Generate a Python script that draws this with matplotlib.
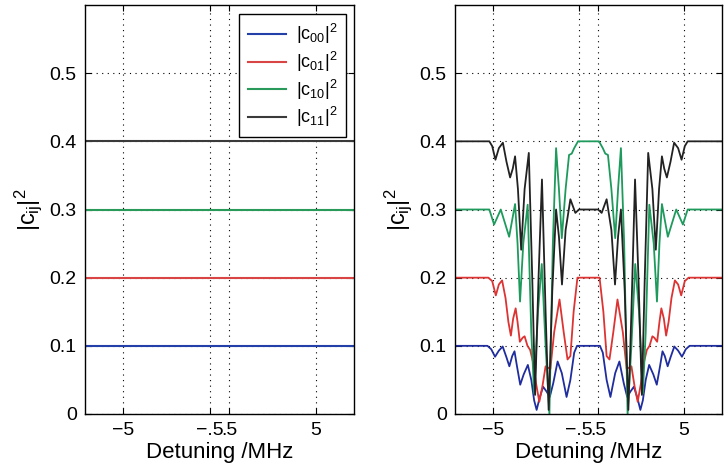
import matplotlib.pyplot as plt

plt.rcParams["font.family"] = ["Liberation Sans", "DejaVu Sans"]
plt.rcParams["mathtext.fontset"] = "custom"
plt.rcParams["mathtext.rm"] = "Liberation Sans"
plt.rcParams["mathtext.it"] = "Liberation Sans"

# ─── Data ──────────────────────────────────────────────────────────────────
X_TICKS = [-5, -0.5, 0.5, 5]
X_TICK_LABELS = ["\u22125", "\u2212.5", ".5", "5"]
Y_TICKS = [0, 0.1, 0.2, 0.3, 0.4, 0.5]
Y_TICK_LABELS = ["0", "0.1", "0.2", "0.3", "0.4", "0.5"]
LABELS = [r"$|c_{00}|^2$", r"$|c_{01}|^2$", r"$|c_{10}|^2$", r"$|c_{11}|^2$"]

# left panel: constant populations
left_x = [-7, 7]
left_levels = [0.1, 0.2, 0.3, 0.4]

# right panel: populations vs detuning
c00_x = [-7, -5.3, -5.1, -4.9, -4.7, -4.5, -4.3, -4.15, -4.0, -3.88, -3.75, -3.58,
         -3.4, -3.18, -3.0, -2.85, -2.72, -2.55, -2.38, -2.2, -2.03, -1.85, -1.62,
         -1.4, -1.15, -0.95, -0.75, -0.6, 0,
         0.6, 0.75, 0.95, 1.15, 1.4, 1.62, 1.85, 2.03, 2.2, 2.38, 2.55, 2.72, 2.85,
         3.0, 3.18, 3.4, 3.58, 3.75, 3.88, 4.0, 4.15, 4.3, 4.5, 4.7, 4.9, 5.1, 5.3, 7]
c00_y = [0.1, 0.1, 0.095, 0.084, 0.093, 0.099, 0.083, 0.07, 0.085, 0.092, 0.07, 0.043,
         0.058, 0.072, 0.05, 0.02, 0.006, 0.025, 0.04, 0.033, 0.025, 0.045, 0.077,
         0.06, 0.025, 0.05, 0.09, 0.1, 0.1,
         0.1, 0.09, 0.05, 0.025, 0.06, 0.077, 0.045, 0.025, 0.033, 0.04, 0.025, 0.006, 0.02,
         0.05, 0.072, 0.058, 0.043, 0.07, 0.092, 0.085, 0.07, 0.083, 0.099, 0.093, 0.084,
         0.095, 0.1, 0.1]

c01_x = [-7, -5.25, -5.05, -4.86, -4.7, -4.53, -4.35, -4.2, -4.07, -3.95, -3.82, -3.72,
         -3.6, -3.45, -3.35, -3.2, -3.06, -2.9, -2.75, -2.58, -2.42, -2.25, -2.0, -1.8,
         -1.52, -1.3, -1.1, -0.95, -0.78, -0.58, 0,
         0.58, 0.78, 0.95, 1.1, 1.3, 1.52, 1.8, 2.0, 2.25, 2.42, 2.58, 2.75, 2.9, 3.06,
         3.2, 3.35, 3.45, 3.6, 3.72, 3.82, 3.95, 4.07, 4.2, 4.35, 4.53, 4.7, 4.86, 5.05,
         5.25, 7]
c01_y = [0.2, 0.2, 0.195, 0.174, 0.19, 0.196, 0.17, 0.135, 0.115, 0.14, 0.155, 0.135,
         0.106, 0.112, 0.114, 0.1, 0.094, 0.075, 0.045, 0.018, 0.04, 0.07, 0.066, 0.12,
         0.168, 0.12, 0.08, 0.085, 0.15, 0.2, 0.2,
         0.2, 0.15, 0.085, 0.08, 0.12, 0.168, 0.12, 0.066, 0.07, 0.04, 0.018, 0.045, 0.075,
         0.094, 0.1, 0.114, 0.112, 0.106, 0.135, 0.155, 0.14, 0.115, 0.135, 0.17, 0.196,
         0.19, 0.174, 0.195, 0.2, 0.2]

c10_x = [-7, -5.2, -4.95, -4.6, -4.16, -3.85, -3.72, -3.59, -3.42, -3.19, -3.0, -2.85,
         -2.65, -2.45, -2.25, -2.05, -1.87, -1.7, -1.55, -1.4, -1.2, -1.02, -0.88, -0.75,
         -0.55, 0,
         0.55, 0.75, 0.88, 1.02, 1.2, 1.4, 1.55, 1.7, 1.87, 2.05, 2.25, 2.45, 2.65, 2.85,
         3.0, 3.19, 3.42, 3.59, 3.72, 3.85, 4.16, 4.6, 4.95, 5.2, 7]
c10_y = [0.3, 0.3, 0.278, 0.3, 0.26, 0.308, 0.25, 0.165, 0.25, 0.307, 0.12, 0.03,
         0.15, 0.22, 0.1, 0.0, 0.25, 0.39, 0.33, 0.258, 0.33, 0.38, 0.382, 0.39,
         0.4, 0.4,
         0.4, 0.39, 0.382, 0.38, 0.33, 0.258, 0.33, 0.39, 0.25, 0.0, 0.1, 0.22, 0.15, 0.03,
         0.12, 0.307, 0.25, 0.165, 0.25, 0.308, 0.26, 0.3, 0.278, 0.3, 0.3]

c11_x = [-7, -5.2, -5.05, -4.88, -4.7, -4.49, -4.3, -4.11, -3.97, -3.85, -3.7, -3.53,
         -3.35, -3.13, -2.95, -2.8, -2.62, -2.44, -2.25, -2.09, -1.9, -1.7, -1.55, -1.39,
         -1.2, -0.95, -0.82, -0.69, -0.5, 0,
         0.5, 0.69, 0.82, 0.95, 1.2, 1.39, 1.55, 1.7, 1.9, 2.09, 2.25, 2.44, 2.62, 2.8,
         2.95, 3.13, 3.35, 3.53, 3.7, 3.85, 3.97, 4.11, 4.3, 4.49, 4.7, 4.88, 5.05, 5.2, 7]
c11_y = [0.4, 0.4, 0.393, 0.373, 0.39, 0.398, 0.37, 0.347, 0.36, 0.378, 0.33, 0.241,
         0.33, 0.383, 0.2, 0.028, 0.2, 0.344, 0.15, 0.006, 0.18, 0.3, 0.26, 0.19,
         0.27, 0.315, 0.305, 0.295, 0.3, 0.3,
         0.3, 0.295, 0.305, 0.315, 0.27, 0.19, 0.26, 0.3, 0.18, 0.006, 0.15, 0.344, 0.2,
         0.028, 0.2, 0.383, 0.33, 0.241, 0.33, 0.378, 0.36, 0.347, 0.37, 0.398, 0.39,
         0.373, 0.393, 0.4, 0.4]

COLORS = ["#1f2d9e", "#dd3333", "#1d9a5c", "#222222"]
LEFT_COLORS = ["#2340a8", "#d94444", "#2a9a5a", "#3a3a3a"]

# ─── Figure ────────────────────────────────────────────────────────────────
fig = plt.figure(figsize=(7.24, 4.70), dpi=100)
ax1 = fig.add_axes([85 / 724, 56 / 470, 269 / 724, 409 / 470])
ax2 = fig.add_axes([455 / 724, 56 / 470, 267 / 724, 409 / 470])

for lvl, col, lab in zip(left_levels, LEFT_COLORS, LABELS):
    ax1.plot(left_x, [lvl, lvl], color=col, lw=1.5, label=lab)

right = [(c00_x, c00_y), (c01_x, c01_y), (c10_x, c10_y), (c11_x, c11_y)]
for (xs, ys), col in zip(right, COLORS):
    ax2.plot(xs, ys, color=col, lw=1.3, solid_joinstyle="round")

for ax in (ax1, ax2):
    ax.set_xlim(-7, 7)
    ax.set_ylim(0, 0.6)
    ax.set_xticks(X_TICKS)
    ax.set_xticklabels(X_TICK_LABELS)
    ax.set_yticks(Y_TICKS)
    ax.set_yticklabels(Y_TICK_LABELS)
    ax.tick_params(direction="in", top=True, right=True, length=4, labelsize=14, pad=6)
    ax.grid(True, linestyle=(0, (1, 4)), color="black", lw=0.8)
    ax.set_axisbelow(True)
    for sp in ax.spines.values():
        sp.set_linewidth(1.0)
    ax.set_xlabel("Detuning /MHz", fontsize=16, labelpad=2)
    ax.set_ylabel(r"$|c_{ij}|^2$", fontsize=17, labelpad=4)

leg = ax1.legend(loc="upper right", bbox_to_anchor=(0.97, 0.978), borderaxespad=0,
                 fontsize=13, fancybox=False, framealpha=1, edgecolor="black",
                 handlelength=2.1, handletextpad=0.6, labelspacing=0.2, borderpad=0.45)
leg.get_frame().set_linewidth(1.0)

fig.savefig("out.png", dpi=100)
